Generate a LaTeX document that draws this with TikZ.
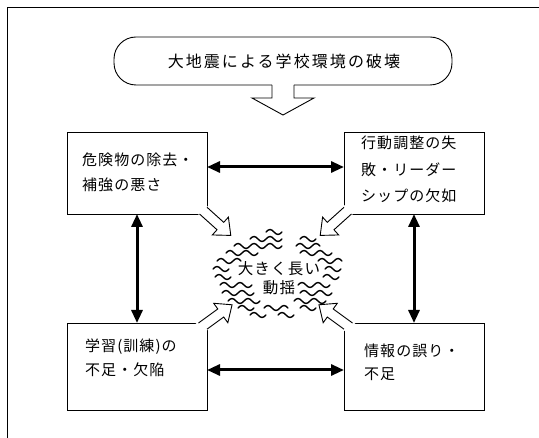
\documentclass[tikz,border=0pt]{standalone}
\usepackage{fontspec}
\newfontfamily\jpbox{Noto Sans CJK JP}[LetterSpace=7]
\newfontfamily\jptitle{Noto Sans CJK JP}[LetterSpace=13]
\newfontfamily\jpmid{Noto Sans CJK JP}[LetterSpace=8]
\usetikzlibrary{arrows.meta,calc}
% hollow arrow leaving a box corner: #1 corner, #2 angle, #3 length, #4/#5 box-edge angles for the two shaft sides
\newcommand{\hollowarr}[5]{%
  \begin{scope}[shift={(#1)}, rotate=#2, y=1pt]
    \path[fill=white, draw=white, line width=2pt]
      ({5*cot(#4-(#2))},5) -- ({#3-14},5) -- ({#3-14},12) -- (#3,0) --
      ({#3-14},-12) -- ({#3-14},-5) -- ({-5*cot(#5-(#2))},-5) -- (0,0) -- cycle;
    \draw[hollow]
      ({5*cot(#4-(#2))},5) -- ({#3-14},5) -- ({#3-14},12) -- (#3,0) --
      ({#3-14},-12) -- ({#3-14},-5) -- ({-5*cot(#5-(#2))},-5);
  \end{scope}}
\newcommand{\wv}[3]{%
  \draw[wave] (#1,#2) \foreach \i [evaluate=\i as \s using {2*mod(\i,2)-1}] in {1,...,#3} { sin ++(4,{-\s*2.5}) cos ++(4,{\s*2.5}) };}
\begin{document}
\begin{tikzpicture}[x=1pt,y=-1pt,line join=miter,
  box/.style={draw, line width=0.9pt, fill=white, minimum width=140pt, inner sep=0pt, outer sep=0pt},
  txt/.style={anchor=west, inner sep=0pt, text height=13.2pt, text depth=1.8pt, font={\jpbox\fontsize{15}{17}\selectfont}},
  mid/.style={inner sep=0pt, text height=13.6pt, text depth=1.9pt, font={\jpmid\fontsize{15.5}{17}\selectfont}},
  ttl/.style={draw, line width=0.9pt, rounded corners=22pt, minimum width=338pt, minimum height=48pt, inner sep=0pt, outer sep=0pt, font={\jptitle\fontsize{16}{18}\selectfont}},
  dbl/.style={{Triangle[length=13pt,width=11pt]}-{Triangle[length=13pt,width=11pt]}, line width=3pt},
  wave/.style={line width=1.4pt, line cap=round},
  hollow/.style={line width=0.9pt}
]
\useasboundingbox (0,0) rectangle (539,438);
% frame
\draw[line width=0.7pt] (539,7) -- (7,7) -- (7,438);

% title
\node[ttl] (title) at (283,61) {\hspace*{2pt}大地震による学校環境の破壊};
\coordinate (ts) at (title.south);
\fill[white] ($(ts)+(-11,-1.5)$) rectangle ($(ts)+(11,1.5)$);
\draw[hollow] ($(ts)+(-11,0)$) -- ++(0,13) -- ++(-20,0) -- ($(ts)+(0,30)$) -- ($(ts)+(31,13)$) -- ++(-20,0) -- ++(0,-13);

% boxes
\node[box, minimum height=82pt] (tl) at (137,173) {};
\node[box, minimum height=82pt] (tr) at (414,173) {};
\node[box, minimum height=87pt] (bl) at (137,366.5) {};
\node[box, minimum height=87pt] (br) at (414,366.5) {};

% box texts
\node[txt] (tl1) at (82,160) {危険物の除去・};
\node[txt] (tl2) at (82,185) {補強の悪さ};
\node[txt] (tr1) at (361,143) {行動調整の失};
\node[txt] (tr2) at (361,170) {敗・リーダー};
\node[txt] (tr3) at (361,196) {シップの欠如};
\node[txt] (bl1) at (85,346) {学習(訓練)の};
\node[txt] (bl2) at (85,370) {不足・欠陥};
\node[txt] (br1) at (364,351) {情報の誤り・};
\node[txt] (br2) at (364,374) {不足};

% double arrows
\coordinate (ht) at (0,167);
\coordinate (hb) at (0,370);
\draw[dbl] (tl.east |- ht) -- (tr.west |- ht);
\draw[dbl] (bl.east |- hb) -- (br.west |- hb);
\draw[dbl] (tl.south) -- (bl.north);
\draw[dbl] (tr.south) -- (br.north);

% hollow arrows toward the centre
\hollowarr{tl.south east}{-42}{32}{90}{180}
\hollowarr{tr.south west}{-138}{32}{0}{90}
\hollowarr{bl.north east}{36}{31}{180}{270}
\hollowarr{br.north west}{144}{31}{270}{0}

% shaking waves
\foreach \yy/\xx/\nn in {232/266/2, 239/250/4, 239/300/2, 246/234/6, 246/296/3,
  253/226/4, 253/300/4, 261/217/3, 261/318/3, 269/213/2, 269/325/2,
  277/215/2, 277/323/2, 285/220/4, 285/298/4, 293/222/4, 293/300/4,
  301/228/4, 301/294/4, 308/238/2, 308/264/3, 308/300/2, 315/250/2, 315/278/2}
  {\wv{\xx}{\yy}{\nn}}

\node[mid] (m1) at (279,269) {大きく長い};
\node[mid] (m2) at (279,288) {動揺};
\end{tikzpicture}
\end{document}
